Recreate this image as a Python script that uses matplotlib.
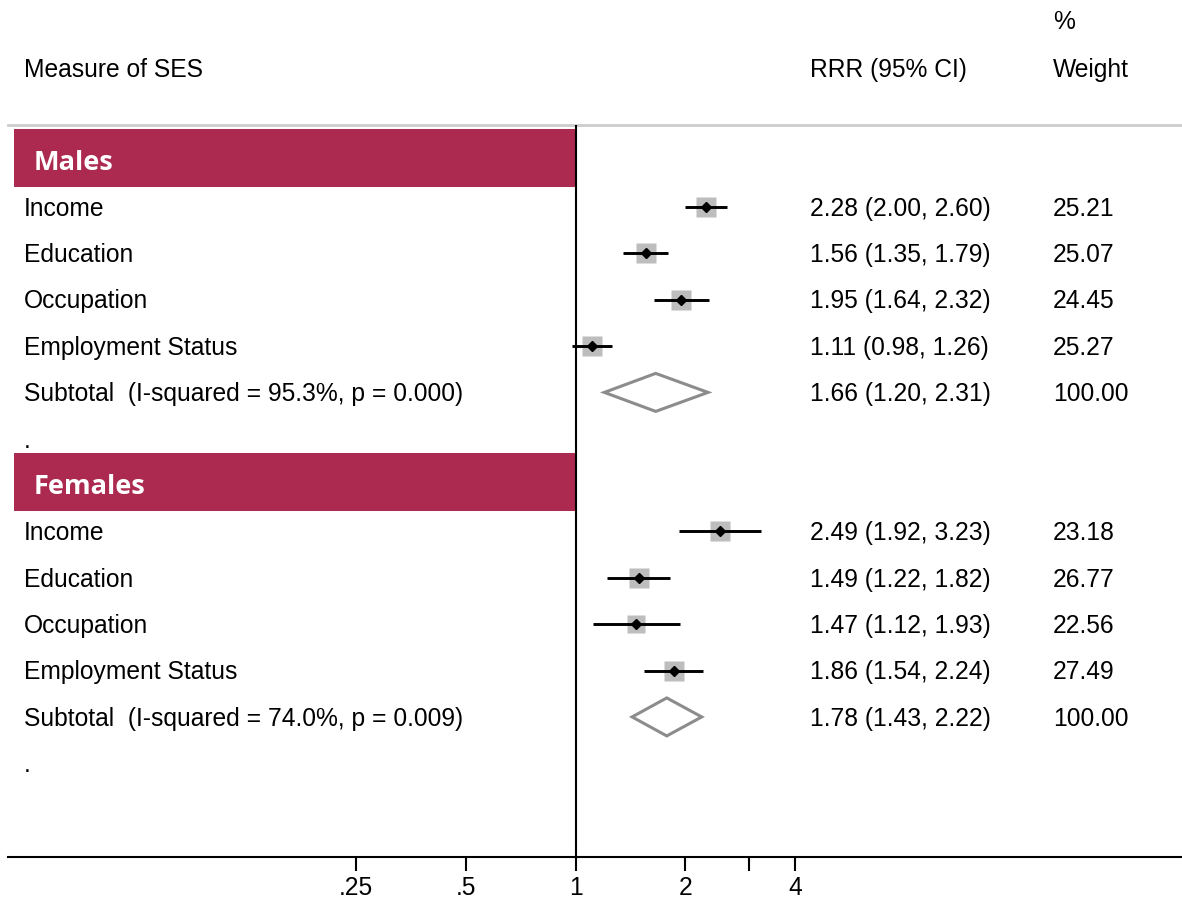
import matplotlib
matplotlib.use('Agg')
import matplotlib.pyplot as plt
import matplotlib.transforms as mtransforms
from matplotlib.patches import Rectangle, Polygon
import numpy as np

# ---------------- data ----------------
groups = ['Males', 'Females']
measures = ['Income', 'Education', 'Occupation', 'Employment Status']

males_rrr = [2.28, 1.56, 1.95, 1.11]
males_lo = [2.00, 1.35, 1.64, 0.98]
males_hi = [2.60, 1.79, 2.32, 1.26]
males_wt = [25.21, 25.07, 24.45, 25.27]
males_sub = [1.66, 1.20, 2.31]
males_isq = 95.3
males_p = 0.000

females_rrr = [2.49, 1.49, 1.47, 1.86]
females_lo = [1.92, 1.22, 1.12, 1.54]
females_hi = [3.23, 1.82, 1.93, 2.24]
females_wt = [23.18, 26.77, 22.56, 27.49]
females_sub = [1.78, 1.43, 2.22]
females_isq = 74.0
females_p = 0.009

xticks = [0.25, 0.5, 1, 2, 3, 4]
xticklabels = ['.25', '.5', '1', '2', '', '4']

# ---------------- layout ----------------
W, H = 1182, 899
plt.rcParams['font.family'] = ['Liberation Sans', 'DejaVu Sans']
fig = plt.figure(figsize=(W / 100, H / 100), dpi=100)

ROW0, ROWH = 160.6, 46.36          # pixel centre of row 0 and row spacing
X1PX, DPX = 575.5, 109.7           # pixel of x=1 and pixels per doubling
AX_L, AX_R, AX_T, AX_B = 8, 1182, 125, 857

def pxval(px):
    return 2 ** ((px - X1PX) / DPX)

def pxrow(py):
    return (py - ROW0) / ROWH

ax = fig.add_axes([AX_L / W, (H - AX_B) / H, (AX_R - AX_L) / W, (AX_B - AX_T) / H])
ax.set_xscale('log', base=2)
ax.set_xlim(pxval(AX_L), pxval(AX_R))
ax.set_ylim(pxrow(AX_B), pxrow(AX_T))

for s in ['left', 'right']:
    ax.spines[s].set_visible(False)
ax.spines['top'].set_color('#cccccc')
ax.spines['top'].set_linewidth(2)
ax.spines['bottom'].set_color('black')
ax.spines['bottom'].set_linewidth(1.5)
ax.set_yticks([])
ax.set_xticks(xticks)
ax.set_xticklabels(xticklabels)
ax.xaxis.set_minor_locator(matplotlib.ticker.NullLocator())
ax.tick_params(axis='x', direction='out', length=10, width=1.5, labelsize=17.7, pad=4,
               color='black')

ax.axvline(1, color='black', lw=1.5, zorder=3)

trans = mtransforms.blended_transform_factory(fig.transFigure, ax.transData)
FS = 17.7
BASE = 0.19   # baseline offset (rows) below row centre
BANNER = '#ac2a50'
BOXC = '#bdbdbd'
DIAC = '#8c8c8c'

sets = [
    (groups[0], males_rrr, males_lo, males_hi, males_wt, males_sub, males_isq, males_p),
    (groups[1], females_rrr, females_lo, females_hi, females_wt, females_sub, females_isq, females_p),
]

def txt(x, r, s):
    ax.text(x / W, r + BASE, s, transform=trans, fontsize=FS, va='baseline', ha='left')

row = 0
for name, rrr, lo, hi, wt, sub, isq, p in sets:
    # banner
    ax.add_patch(Rectangle((14 / W, row - 0.685), (575 - 14) / W, 1.25, transform=trans,
                           facecolor=BANNER, edgecolor='none', zorder=1, clip_on=False))
    ax.text(34 / W, row + 0.195, name, transform=trans, color='white', fontsize=19.5,
            fontweight='bold', family=['Open Sans', 'DejaVu Sans'], va='baseline', ha='left',
            zorder=2)
    row += 1
    for m, e, l, h, w in zip(measures, rrr, lo, hi, wt):
        ax.plot([e], [row], marker='s', ms=14.4 * np.sqrt(w / 25.0), color=BOXC, mec='none', zorder=4)
        ax.plot([l, h], [row, row], color='black', lw=2.1, solid_capstyle='butt', zorder=5)
        ax.plot([e], [row], marker='D', ms=5.6, color='black', zorder=6)
        txt(24, row, m)
        txt(810, row, f'{e:.2f} ({l:.2f}, {h:.2f})')
        txt(1053, row, f'{w:.2f}')
        row += 1
    e, l, h = sub
    dh = 0.41
    ax.add_patch(Polygon([(l, row), (e, row - dh), (h, row), (e, row + dh)], closed=True,
                         facecolor='white', edgecolor=DIAC, lw=2.2, zorder=4))
    txt(24, row, f'Subtotal  (I-squared = {isq:.1f}%, p = {p:.3f})')
    txt(810, row, f'{e:.2f} ({l:.2f}, {h:.2f})')
    txt(1053, row, '100.00')
    row += 1
    txt(24, row, '.')
    row += 1

# headers
for x, y, s in [(24, 77, 'Measure of SES'), (810, 77, 'RRR (95% CI)'),
                (1053, 77, 'Weight'), (1053, 29, '%')]:
    fig.text(x / W, 1 - y / H, s, fontsize=FS, va='baseline', ha='left')

fig.savefig('out.png', dpi=100, facecolor='white')
